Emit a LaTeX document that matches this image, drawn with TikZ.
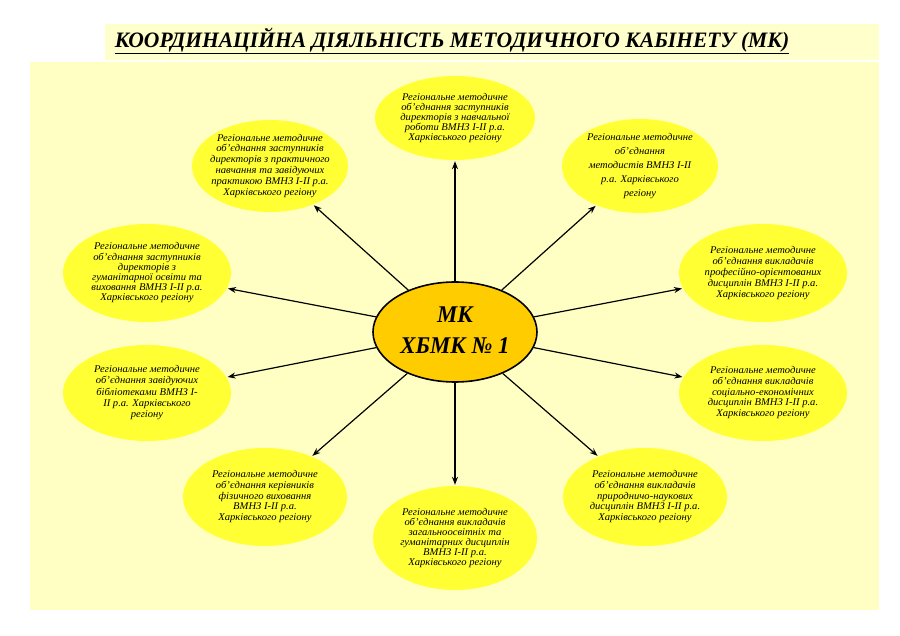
\documentclass[tikz,border=0pt]{standalone}
\usepackage{fontspec}
\usepackage{graphicx}
\setmainfont{Liberation Serif}
\usetikzlibrary{shapes.geometric,arrows.meta}
\definecolor{mainbg}{HTML}{FFFFC4}
\definecolor{titlebg}{HTML}{FFFFCC}
\definecolor{ell}{HTML}{FFFF33}
\definecolor{core}{HTML}{FFCC00}
\newcommand{\ttxt}[1]{\scalebox{1.03}[1]{\begin{tabular}{@{}c@{}}#1\end{tabular}}}
\tikzset{
  outer/.style={ellipse, fill=ell, inner sep=0pt},
  txt/.style={align=center, font=\itshape\fontsize{10.3}{#1}\selectfont, inner sep=0pt},
  txt/.default=10.4,
  arr/.style={-{Stealth[length=8pt,width=6pt]}, line width=1.2pt, shorten >=1pt}
}
\renewcommand{\arraystretch}{1}
\begin{document}
\begin{tikzpicture}[x=1pt,y=-1pt]
\useasboundingbox (0,0) rectangle (900,636);
\fill[white] (0,0) rectangle (900,636);
\fill[titlebg] (105,24) rectangle (879,60);
\fill[mainbg] (30,62) rectangle (879,610);
\node[font=\bfseries\itshape\fontsize{22}{24}\selectfont, inner sep=0pt] (title) at (452,41)
  {\scalebox{0.98}[1]{\underline{КООРДИНАЦІЙНА ДІЯЛЬНІСТЬ МЕТОДИЧНОГО КАБІНЕТУ (МК)}}};

\node[ellipse, fill=core, draw=black, line width=1.6pt, minimum width=164pt, minimum height=100pt, inner sep=0pt] (c) at (455,332) {};
\node[font=\bfseries\itshape\fontsize{24}{28}\selectfont, inner sep=0pt] at (c)
  {\scalebox{0.95}[1]{\begin{tabular}{@{}c@{}}МК\\[3pt]ХБМК № 1\end{tabular}}};

\node[outer, minimum width=160pt, minimum height=84pt] (n1) at (455,118) {};
\node[txt=9.6] at (n1) {\ttxt{Регіональне методичне\\об’єднання заступників\\директорів з навчальної\\роботи ВМНЗ І-ІІ р.а.\\Харківського регіону}};

\node[outer, minimum width=156pt, minimum height=92pt] (n2) at (270,166) {};
\node[txt=10.8] at (n2) {\ttxt{Регіональне методичне\\об’єднання заступників\\директорів з практичного\\навчання та завідуючих\\практикою ВМНЗ І-ІІ р.а.\\Харківського регіону}};

\node[outer, minimum width=156pt, minimum height=94pt] (n3) at (640,166) {};
\node[txt=14] at (n3) {\ttxt{Регіональне методичне\\об’єднання\\методистів ВМНЗ І-ІІ\\р.а. Харківського\\регіону}};

\node[outer, minimum width=168pt, minimum height=98pt] (n4) at (147,273) {};
\node[txt=10] at (n4) {\ttxt{Регіональне методичне\\об’єднання заступників\\директорів з\\гуманітарної освіти та\\виховання ВМНЗ І-ІІ р.а.\\Харківського регіону}};

\node[outer, minimum width=168pt, minimum height=98pt] (n5) at (763,273) {};
\node[txt=11] at (n5) {\ttxt{Регіональне методичне\\об’єднання викладачів\\професійно-орієнтованих\\дисциплін ВМНЗ І-ІІ р.а.\\Харківського регіону}};

\node[outer, minimum width=168pt, minimum height=96pt] (n6) at (147,393) {};
\node[txt=11.3] at (n6) {\ttxt{Регіональне методичне\\об’єднання завідуючих\\бібліотеками ВМНЗ І-\\ІІ р.а. Харківського\\регіону}};

\node[outer, minimum width=168pt, minimum height=96pt] (n7) at (763,393) {};
\node[txt=10.8] at (n7) {\ttxt{Регіональне методичне\\об’єднання викладачів\\соціально-економічних\\дисциплін ВМНЗ І-ІІ р.а.\\Харківського регіону}};

\node[outer, minimum width=164pt, minimum height=98pt] (n8) at (265,497) {};
\node[txt=10.8] at (n8) {\ttxt{Регіональне методичне\\об’єднання керівників\\фізичного виховання\\ВМНЗ І-ІІ р.а.\\Харківського регіону}};

\node[outer, minimum width=164pt, minimum height=98pt] (n9) at (645,497) {};
\node[txt=10.8] at (n9) {\ttxt{Регіональне методичне\\об’єднання викладачів\\природничо-наукових\\дисциплін ВМНЗ І-ІІ р.а.\\Харківського регіону}};

\node[outer, minimum width=164pt, minimum height=104pt] (n10) at (455,538) {};
\node[txt=9.8] at (n10) {\ttxt{Регіональне методичне\\об’єднання викладачів\\загальноосвітніх та\\гуманітарних дисциплін\\ВМНЗ І-ІІ р.а.\\Харківського регіону}};

\foreach \n in {n1,n2,n3,n4,n5,n6,n7,n8,n9,n10}
  \draw[arr] (c) -- (\n);
\end{tikzpicture}
\end{document}
